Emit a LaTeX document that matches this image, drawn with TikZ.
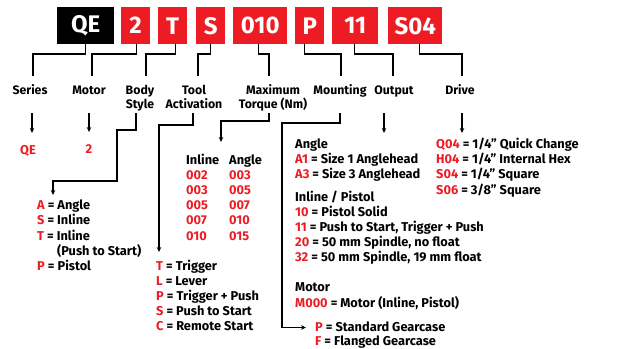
\documentclass[tikz,border=0pt]{standalone}
\usepackage{fontspec}
\setmainfont{Fira Sans}
\usetikzlibrary{arrows.meta}
\definecolor{qred}{HTML}{ED1C24}
\newcommand\rd[1]{\textcolor{qred}{#1}}
\tikzset{
  codebox/.style={fill=qred, text=white, font=\fontsize{24}{26}\selectfont\bfseries,
    minimum height=37pt, inner sep=0pt, anchor=north west},
  hdr/.style={font=\fontsize{12.3}{14}\selectfont\bfseries, align=center, anchor=base, inner sep=0pt},
  txt/.style={font=\fontsize{12.8}{15}\selectfont\bfseries, anchor=base west, inner sep=0pt},
  redtxt/.style={font=\fontsize{12.8}{15}\selectfont\bfseries, anchor=base, inner sep=0pt, text=qred},
  conn/.style={line width=1.1pt},
  arr/.style={conn, -{Stealth[length=5pt,width=4.5pt]}},
}
\begin{document}
\begin{tikzpicture}[x=1pt,y=-1pt]
\useasboundingbox (0,0) rectangle (642,348);
% code boxes
\node[codebox, fill=black, minimum width=57pt] (qe) at (57,7) {QE};
\node[codebox, minimum width=29pt] (b2) at (121,7) {2};
\node[codebox, minimum width=29pt] (bT) at (158,7) {T};
\node[codebox, minimum width=29pt] (bS) at (196,7) {S};
\node[codebox, minimum width=54pt] (b010) at (233,7) {010};
\node[codebox, minimum width=29pt] (bP) at (295,7) {P};
\node[codebox, minimum width=46pt] (b11) at (332,7) {11};
\node[codebox, minimum width=54pt] (bS04) at (388,7) {S04};
% headers (two-line labels: base = last line)
\node[hdr] (series) at (30,94) {Series};
\node[hdr] (motor) at (89,94) {Motor};
\node[hdr] (body) at (140,108) {Body\\Style};
\node[hdr] (tool) at (194,108) {Tool\\Activation};
\node[hdr] (torque) at (273,108) {Maximum\\Torque (Nm)};
\node[hdr] (mount) at (340,94) {Mounting};
\node[hdr] (outp) at (394,94) {Output};
\node[hdr] (drive) at (460,94) {Drive};
% label ends
\coordinate (seriesT) at (33,76);
\coordinate (motorT) at (92,76);
\coordinate (bodyT) at (146,76);
\coordinate (toolT) at (198,76);
\coordinate (torqueT) at (269,76);
\coordinate (mountT) at (341,76);
\coordinate (outpT) at (393,76);
\coordinate (driveT) at (462,76);
\coordinate (seriesB) at (32,113);
\coordinate (motorB) at (89,113);
\coordinate (bodyB) at (136,113);
\coordinate (toolB) at (193,113);
\coordinate (torqueB) at (269,113);
\coordinate (mountB) at (340,113);
\coordinate (outpB) at (384,113);
\coordinate (driveB) at (462,113);
% top connectors
\draw[conn] ([xshift=-0.5pt]qe.south) |- (seriesT |- 0,54) -- (seriesT);
\draw[conn] ([xshift=0.5pt]b2.south) |- (motorT |- 0,54) -- (motorT);
\draw[conn] ([xshift=2.5pt]bT.south) |- (bodyT |- 0,54) -- (bodyT);
\draw[conn] ([xshift=-0.5pt]bS.south) |- (toolT |- 0,54) -- (toolT);
\draw[conn] ([xshift=-2pt]b010.south) |- (torqueT |- 0,54) -- (torqueT);
\draw[conn] ([xshift=-5.5pt]bP.south) |- (mountT |- 0,54) -- (mountT);
\draw[conn] ([xshift=-1pt]b11.south) |- (outpT |- 0,54) -- (outpT);
\draw[conn] ([xshift=4pt]bS04.south) |- (driveT |- 0,54) -- (driveT);
% value texts
\node[redtxt] (vQE) at (28,154) {QE};
\node[redtxt] (v2) at (89,153) {2};
% body style list
\node[txt] (bA) at (37,209.5) {\rd{A} = Angle};
\node[txt] (bSi) at (37,224.5) {\rd{S} = Inline};
\node[txt] (bTi) at (37,240) {\rd{T} = Inline};
\node[txt] (bPs) at (57,255) {(Push to Start)};
\node[txt] (bPi) at (37,270) {\rd{P} = Pistol};
% tool activation list
\node[txt] (tT) at (156,270.5) {\rd{T} = Trigger};
\node[txt] (tL) at (156,285.5) {\rd{L} = Lever};
\node[txt] (tP) at (156,300.5) {\rd{P} = Trigger + Push};
\node[txt] (tS) at (156,315.5) {\rd{S} = Push to Start};
\node[txt] (tC) at (156,330.5) {\rd{C} = Remote Start};
% torque table
\node[txt] (qIn) at (186,164.5) {Inline};
\node[txt] (qAn) at (229,164.5) {Angle};
\node[txt, text=qred] (q1a) at (186,179.5) {002};
\node[txt, text=qred] (q1b) at (229,179.5) {003};
\node[txt, text=qred] (q2a) at (186,194.5) {003};
\node[txt, text=qred] (q2b) at (229,194.5) {005};
\node[txt, text=qred] (q3a) at (186,209.5) {005};
\node[txt, text=qred] (q3b) at (229,209.5) {007};
\node[txt, text=qred] (q4a) at (186,224.5) {007};
\node[txt, text=qred] (q4b) at (229,224.5) {010};
\node[txt, text=qred] (q5a) at (186,240) {010};
\node[txt, text=qred] (q5b) at (229,240) {015};
% mounting / output list
\node[txt] (mAng) at (295,148) {Angle};
\node[txt] (mA1) at (295,163.5) {\rd{A1} = Size 1 Anglehead};
\node[txt] (mA3) at (295,178.5) {\rd{A3} = Size 3 Anglehead};
\node[txt] (mIP) at (295,201) {Inline / Pistol};
\node[txt] (m10) at (295,216) {\rd{10} = Pistol Solid};
\node[txt] (m11) at (295,231.5) {\rd{11} = Push to Start, Trigger + Push};
\node[txt] (m20) at (295,246.5) {\rd{20} = 50 mm Spindle, no float};
\node[txt] (m32) at (295,261.5) {\rd{32} = 50 mm Spindle, 19 mm float};
\node[txt] (mMo) at (295,291.5) {Motor};
\node[txt] (mM0) at (295,307.5) {\rd{M000} = Motor (Inline, Pistol)};
\node[txt] (gP) at (315,331.5) {\rd{P} = Standard Gearcase};
\node[txt] (gF) at (315,345.5) {\rd{F} = Flanged Gearcase};
% drive list
\node[txt] (dQ) at (436,148) {\rd{Q04} = 1/4” Quick Change};
\node[txt] (dH) at (436,163) {\rd{H04} = 1/4” Internal Hex};
\node[txt] (dS4) at (436,178) {\rd{S04} = 1/4” Square};
\node[txt] (dS6) at (436,194) {\rd{S06} = 3/8” Square};
% bottom connectors
\draw[arr] (seriesB) -- (32,133);
\draw[arr] (motorB) -- (89,132);
\draw[arr] (bodyB) |- (117,130) |- (53,181) -- (53,195);
\draw[arr] (toolB) |- (159,125) -- (159,252);
\draw[arr] (torqueB) |- (221,121) -- (221,142);
\draw[arr] (mountB) |- (282,123) |- (306,327.5);
\draw[arr] (outpB) -- (384,133);
\draw[arr] (driveB) -- (462,133);
\end{tikzpicture}
\end{document}
